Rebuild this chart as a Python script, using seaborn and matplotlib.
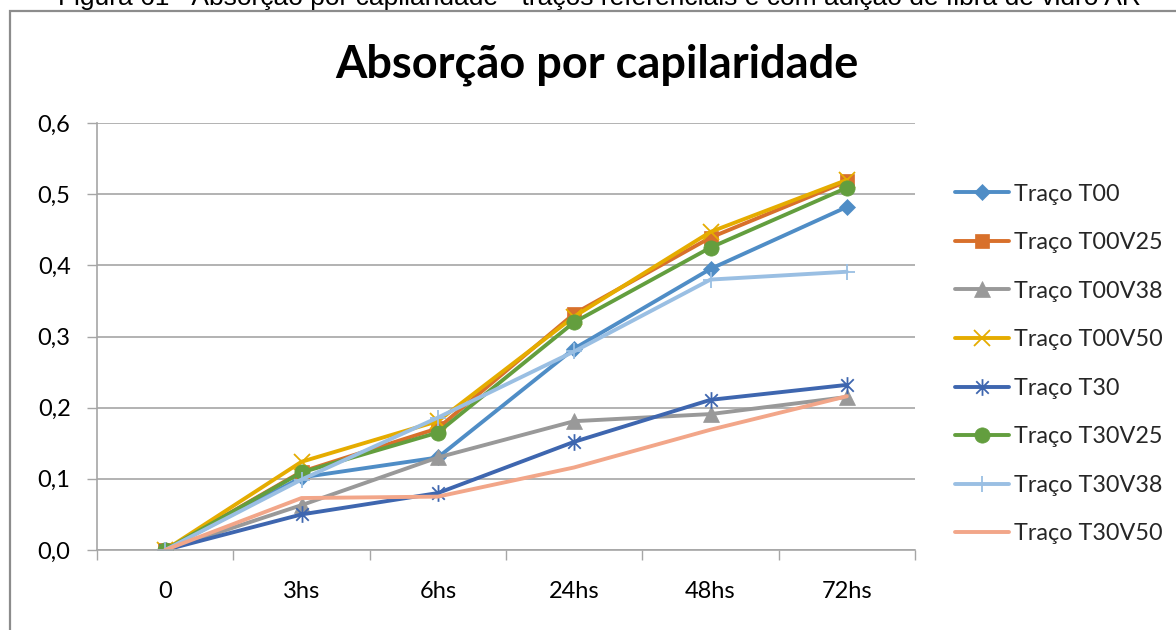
import matplotlib
matplotlib.use("Agg")
import matplotlib.pyplot as plt
import seaborn as sns
from matplotlib.patches import Rectangle
from matplotlib.path import Path
from matplotlib.ticker import FixedLocator, FuncFormatter

# Ensaio de absorção por capilaridade (g/cm²) ao longo do tempo
tempos = ["0", "3hs", "6hs", "24hs", "48hs", "72hs"]

t00 = [0.0, 0.102, 0.130, 0.283, 0.395, 0.482]
t00v25 = [0.0, 0.110, 0.171, 0.332, 0.439, 0.518]
t00v38 = [0.0, 0.063, 0.130, 0.181, 0.191, 0.215]
t00v50 = [0.0, 0.124, 0.181, 0.328, 0.447, 0.520]
t30 = [0.0, 0.050, 0.080, 0.152, 0.211, 0.232]
t30v25 = [0.0, 0.109, 0.165, 0.320, 0.425, 0.509]
t30v38 = [0.0, 0.099, 0.186, 0.279, 0.380, 0.391]
t30v50 = [0.0, 0.073, 0.075, 0.116, 0.169, 0.216]

nomes = ["Traço T00", "Traço T00V25", "Traço T00V38", "Traço T00V50",
         "Traço T30", "Traço T30V25", "Traço T30V38", "Traço T30V50"]
series = [t00, t00v25, t00v38, t00v50, t30, t30v25, t30v38, t30v50]

# asterisco: um "x" com um traço vertical
asterisco = Path(
    [(0, -1), (0, 1), (-0.75, -0.75), (0.75, 0.75), (-0.75, 0.75), (0.75, -0.75)],
    [Path.MOVETO, Path.LINETO, Path.MOVETO, Path.LINETO, Path.MOVETO, Path.LINETO],
)

cores = ["#4F8DC6", "#D8702B", "#999999", "#E5AC00",
         "#3E66AF", "#639E3E", "#9ABFE3", "#F2A689"]
marcadores = ["D", "s", "^", "x", asterisco, "o", "+", None]
tamanhos = [8, 10, 11, 11, 12, 11, 12, 0]
tracados = {"x", "+"}

sns.set_theme(style="white")
plt.rcParams["font.family"] = ["Lato", "DejaVu Sans"]

W, H = 1176, 630
fig = plt.figure(figsize=(W / 100, H / 100), dpi=100)
ax = fig.add_axes([97 / W, 1 - 550 / H, (915 - 97) / W, (550 - 123) / H])

pos = list(range(len(tempos)))
for nome, vals, cor, mk, ms in zip(nomes, series, cores, marcadores, tamanhos):
    if mk is None:
        kw = {}
    else:
        linear = (isinstance(mk, str) and mk in tracados) or isinstance(mk, Path)
        kw = dict(marker=mk, markersize=ms, markerfacecolor=cor,
                  markeredgecolor=cor, markeredgewidth=1.3 if linear else 0.5)
    sns.lineplot(x=pos, y=vals, ax=ax, color=cor, linewidth=2.8,
                 label=nome, estimator=None, sort=False, **kw)

ax.set_xlim(-0.5, len(tempos) - 0.5)
ax.set_ylim(0, 0.6)

grid_cor = "#A6A6A6"
ax.set_yticks([0.0, 0.1, 0.2, 0.3, 0.4, 0.5, 0.6])
ax.yaxis.set_major_formatter(FuncFormatter(lambda v, p: f"{v:.1f}".replace(".", ",")))
ax.set_xticks(pos)
ax.set_xticklabels(tempos)
ax.xaxis.set_minor_locator(FixedLocator([p - 0.5 for p in pos] + [pos[-1] + 0.5]))
ax.tick_params(axis="x", which="major", length=0, pad=22, labelsize=17, colors="black")
ax.tick_params(axis="x", which="minor", length=7, width=1, color=grid_cor, bottom=True)
ax.tick_params(axis="y", which="major", length=7, width=1, color=grid_cor, left=True,
               pad=12, labelsize=17, labelcolor="black")
ax.grid(axis="y", color=grid_cor, linewidth=1.2)
ax.grid(axis="x", visible=False)
ax.set_axisbelow(True)
for s in ["top", "right"]:
    ax.spines[s].set_visible(False)
for s in ["left", "bottom"]:
    ax.spines[s].set_color(grid_cor)
    ax.spines[s].set_linewidth(1.2)
ax.set_xlabel("")
ax.set_ylabel("")

leg = ax.legend(loc="upper left", bbox_to_anchor=(1.038, 0.88), frameon=False,
                fontsize=16.8, handlelength=2.3, handletextpad=0.2,
                labelspacing=1.18, borderaxespad=0)

fig.text(597 / W, 1 - 78 / H, "Absorção por capilaridade", ha="center", va="baseline",
         fontsize=32.5, fontweight="bold", color="black")

fig.text(599 / W, 1 - 5 / H,
         "Figura 61 - Absorção por capilaridade - traços referenciais e com adição de fibra de vidro AR",
         ha="center", va="baseline", fontsize=19, color="black",
         family=["Liberation Sans", "DejaVu Sans"])

fig.add_artist(Rectangle((9.5 / W, -0.1), 1.2, 1 - 11 / H + 0.1, transform=fig.transFigure,
                         fill=False, edgecolor="#8C8C8C", linewidth=1.6, clip_on=False))

fig.savefig("out.png", dpi=100)
